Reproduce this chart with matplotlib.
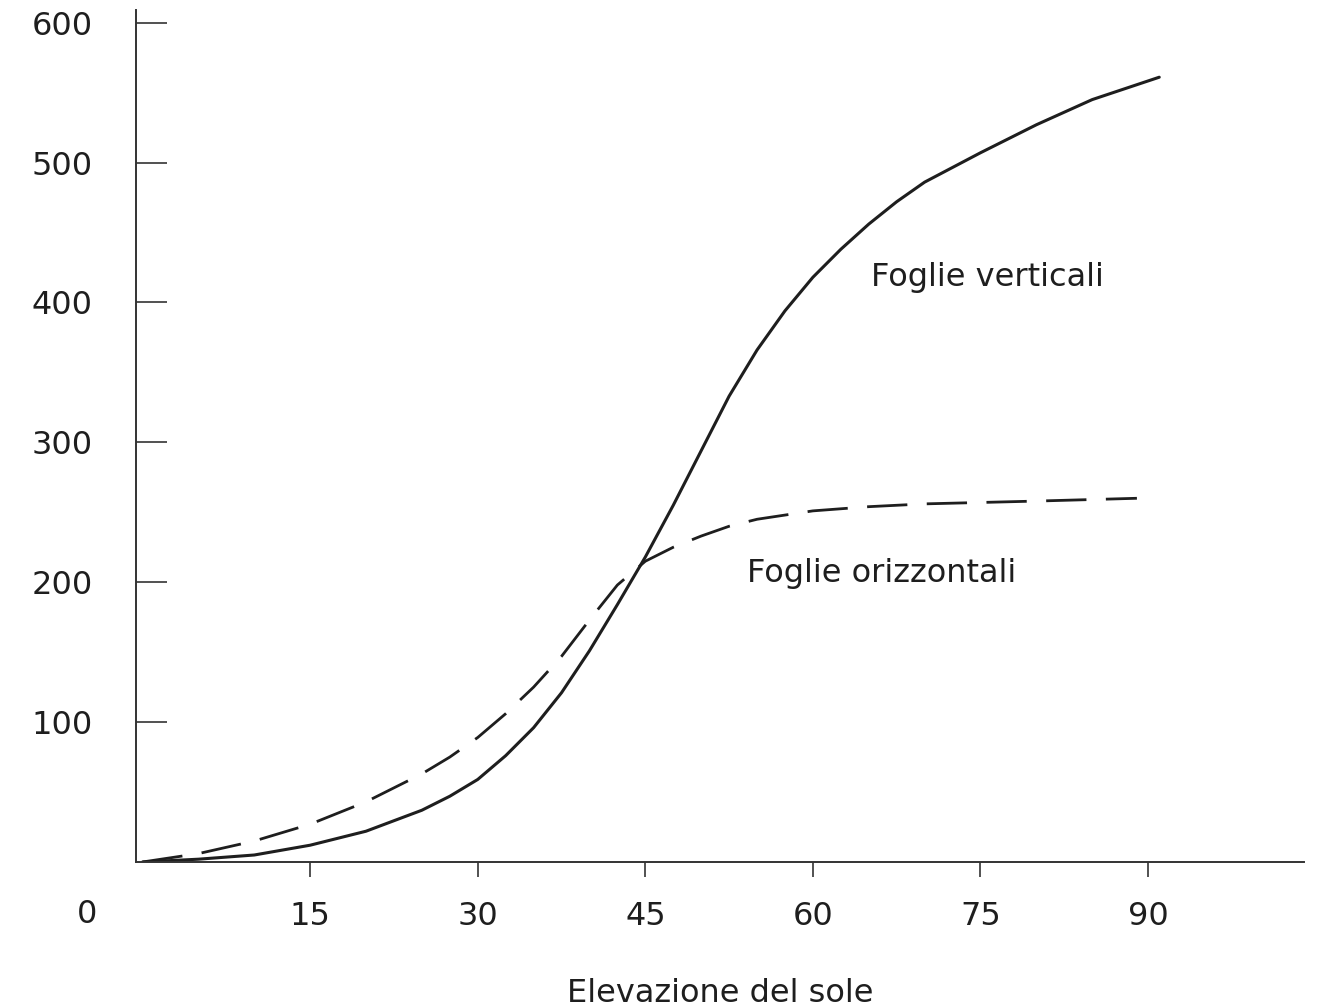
import matplotlib
matplotlib.use("Agg")
import matplotlib.pyplot as plt

plt.rcParams.update({"font.family": ["DejaVu Sans"], "font.size": 23})

# values (sun elevation in degrees)
x_vert = [0, 5, 10, 15, 20, 25, 27.5, 30, 32.5, 35, 37.5, 40, 42.5, 45, 47.5, 50, 52.5,
          55, 57.5, 60, 62.5, 65, 67.5, 70, 75, 80, 85, 91]
y_vert = [0, 2, 5, 12, 22, 37, 47, 59, 76, 96, 121, 151, 184, 218, 255, 294, 333,
          366, 394, 418, 438, 456, 472, 486, 507, 527, 545, 561]

x_oriz = [0, 5, 10, 15, 20, 25, 27.5, 30, 32.5, 35, 37.5, 40, 42.5, 45, 47.5, 50, 52.5,
          55, 60, 65, 70, 75, 80, 89]
y_oriz = [0, 6, 15, 27, 43, 63, 75, 89, 106, 125, 147, 173, 198, 215, 225, 233, 240,
          245, 251, 254, 256, 257, 258, 260]

xticks = [15, 30, 45, 60, 75, 90]
yticks = [100, 200, 300, 400, 500, 600]

ink = "#1e1e1e"
fig = plt.figure(figsize=(13.19, 10.07), dpi=100)
ax = fig.add_axes([0.103, 0.144, 0.886, 0.846])

ax.plot(x_vert, y_vert, color=ink, lw=2.2, solid_capstyle="round", solid_joinstyle="round")
ax.plot(x_oriz, y_oriz, color=ink, lw=2.0, dashes=(14.5, 7))

ax.set_xlim(-0.6, 104)
ax.set_ylim(0, 609)
for s in ("top", "right"):
    ax.spines[s].set_visible(False)
for s in ("left", "bottom"):
    ax.spines[s].set_linewidth(1.4)
    ax.spines[s].set_color("#333333")

ax.set_xticks(xticks)
ax.set_yticks(yticks)
ax.tick_params(axis="y", direction="in", length=22, width=1.2, pad=31, colors="#333333", labelcolor=ink)
ax.tick_params(axis="x", direction="out", length=11, width=1.2, pad=17, colors="#333333", labelcolor=ink)

ax.annotate("0", xy=(-5, 0), xycoords="data", xytext=(0, -38), textcoords="offset points",
            ha="center", va="center", color=ink, annotation_clip=False)

ax.set_xlabel("Elevazione del sole", labelpad=33, color=ink)

ax.text(65.2, 418, "Foglie verticali", ha="left", va="center", color=ink)
ax.text(54.1, 206, "Foglie orizzontali", ha="left", va="center", color=ink)

fig.savefig("out.png", dpi=100)
